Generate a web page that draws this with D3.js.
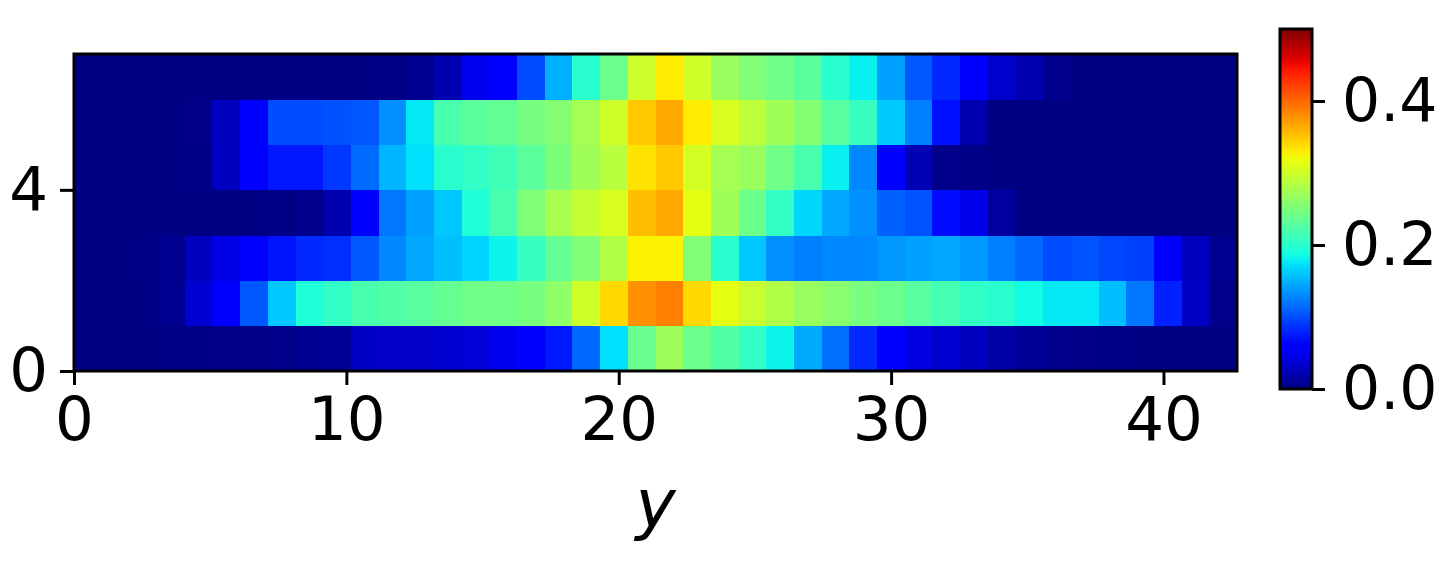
<!DOCTYPE html>
<html>
<head>
<meta charset="utf-8">
<script src="https://cdn.jsdelivr.net/npm/d3@7"></script>
<style>
    body { margin: 0; background: #ffffff; }
    svg { display: block; font-family: "DejaVu Sans", sans-serif; }
</style>
</head>
<body>
<svg id="chart" width="1442" height="580"></svg>
<script>
// heatmap rows, bottom (y = 0) to top (y = 6), one value per column
const row0 = [0.002, 0.002, 0.002, 0.003, 0.003, 0.004, 0.004, 0.005, 0.007, 0.011, 0.030, 0.032, 0.032, 0.035, 0.038, 0.048, 0.058, 0.074, 0.114, 0.172, 0.238, 0.270, 0.240, 0.224, 0.205, 0.182, 0.146, 0.117, 0.082, 0.058, 0.042, 0.035, 0.028, 0.017, 0.011, 0.006, 0.004, 0.003, 0.002, 0.002, 0.002, 0.002];
const row1 = [0.001, 0.001, 0.002, 0.007, 0.035, 0.058, 0.106, 0.160, 0.194, 0.205, 0.219, 0.224, 0.228, 0.236, 0.243, 0.243, 0.248, 0.262, 0.300, 0.340, 0.379, 0.387, 0.340, 0.314, 0.297, 0.282, 0.268, 0.258, 0.248, 0.240, 0.228, 0.217, 0.205, 0.200, 0.186, 0.176, 0.176, 0.156, 0.121, 0.078, 0.030, 0.005];
const row2 = [0.001, 0.001, 0.003, 0.007, 0.028, 0.045, 0.058, 0.072, 0.082, 0.085, 0.106, 0.129, 0.145, 0.156, 0.167, 0.182, 0.209, 0.235, 0.253, 0.282, 0.327, 0.327, 0.253, 0.200, 0.160, 0.133, 0.125, 0.129, 0.129, 0.137, 0.141, 0.145, 0.137, 0.125, 0.114, 0.100, 0.103, 0.097, 0.094, 0.058, 0.028, 0.007];
const row3 = [0.001, 0.001, 0.001, 0.002, 0.002, 0.002, 0.002, 0.003, 0.006, 0.020, 0.060, 0.121, 0.141, 0.160, 0.194, 0.219, 0.253, 0.277, 0.295, 0.306, 0.354, 0.366, 0.314, 0.272, 0.240, 0.205, 0.168, 0.145, 0.133, 0.110, 0.103, 0.068, 0.047, 0.014, 0.002, 0.001, 0.001, 0.001, 0.001, 0.001, 0.001, 0.001];
const row4 = [0.001, 0.001, 0.001, 0.002, 0.003, 0.028, 0.058, 0.074, 0.074, 0.090, 0.115, 0.151, 0.172, 0.200, 0.205, 0.214, 0.230, 0.250, 0.272, 0.287, 0.335, 0.349, 0.304, 0.275, 0.268, 0.243, 0.219, 0.180, 0.129, 0.058, 0.024, 0.005, 0.003, 0.001, 0.001, 0.001, 0.001, 0.001, 0.001, 0.001, 0.001, 0.001];
const row5 = [0.001, 0.001, 0.001, 0.002, 0.004, 0.028, 0.058, 0.100, 0.100, 0.102, 0.105, 0.133, 0.176, 0.219, 0.230, 0.235, 0.247, 0.255, 0.275, 0.300, 0.349, 0.366, 0.330, 0.306, 0.290, 0.272, 0.256, 0.228, 0.209, 0.162, 0.125, 0.070, 0.021, 0.001, 0.001, 0.001, 0.001, 0.001, 0.001, 0.001, 0.001, 0.001];
const row6 = [0.001, 0.001, 0.001, 0.001, 0.002, 0.002, 0.002, 0.002, 0.002, 0.002, 0.002, 0.003, 0.007, 0.021, 0.048, 0.060, 0.100, 0.149, 0.200, 0.240, 0.299, 0.330, 0.300, 0.268, 0.253, 0.243, 0.230, 0.200, 0.180, 0.141, 0.106, 0.082, 0.060, 0.033, 0.021, 0.005, 0.001, 0.001, 0.001, 0.001, 0.001, 0.001];

const rows = [row0, row1, row2, row3, row4, row5, row6];

// axis extents and tick labels
const xMax = 42.7;
const xTicks = [0, 10, 20, 30, 40];
const yTicks = [0, 4];
const cbTicks = [0.0, 0.2, 0.4];
const vMin = 0.0;
const vMax = 0.5;
const xLabel = "y";

// matplotlib jet segments: [position, value]
const jetR = [[0, 0], [0.35, 0], [0.66, 1], [0.89, 1], [1, 0.5]];
const jetG = [[0, 0], [0.125, 0], [0.375, 1], [0.64, 1], [0.91, 0], [1, 0]];
const jetB = [[0, 0.5], [0.11, 1], [0.34, 1], [0.65, 0], [1, 0]];

function segment(seg, t) {
    for (let i = 1; i < seg.length; i++) {
        if (t <= seg[i][0]) {
            const a = seg[i - 1], b = seg[i];
            return a[1] + (b[1] - a[1]) * (t - a[0]) / (b[0] - a[0]);
        }
    }
    return seg[seg.length - 1][1];
}

function jet(t) {
    t = Math.max(0, Math.min(1, t));
    return d3.rgb(255 * segment(jetR, t), 255 * segment(jetG, t), 255 * segment(jetB, t)).toString();
}

const norm = d3.scaleLinear().domain([vMin, vMax]).range([0, 1]).clamp(true);
const color = function(v) { return jet(norm(v)); };

const svg = d3.select("#chart");

// plot box
const plot = { left: 74, right: 1237, top: 54, bottom: 371 };
const nCols = row0.length;
const nRows = rows.length;

const x = d3.scaleLinear().domain([0, xMax]).range([plot.left, plot.right]);
const y = d3.scaleLinear().domain([0, nRows]).range([plot.bottom, plot.top]);
const colWidth = xMax / nCols;

// flatten to cells
const cells = [];
rows.forEach(function(r, j) {
    r.forEach(function(v, i) {
        cells.push({ i: i, j: j, v: v });
    });
});

svg.append("g")
    .selectAll("rect")
    .data(cells)
    .enter().append("rect")
        .attr("x", function(d) { return x(d.i * colWidth); })
        .attr("y", function(d) { return y(d.j + 1); })
        .attr("width", function(d) { return x((d.i + 1) * colWidth) - x(d.i * colWidth) + 0.5; })
        .attr("height", function(d) { return y(d.j) - y(d.j + 1) + 0.5; })
        .attr("fill", function(d) { return color(d.v); })
        .attr("shape-rendering", "crispEdges");

// frame
svg.append("rect")
    .attr("x", plot.left)
    .attr("y", plot.top)
    .attr("width", plot.right - plot.left)
    .attr("height", plot.bottom - plot.top)
    .attr("fill", "none")
    .attr("stroke", "black")
    .attr("stroke-width", 3);

// x axis
const xAxis = d3.axisBottom(x)
    .tickValues(xTicks)
    .tickFormat(d3.format("d"))
    .tickSize(14)
    .tickPadding(12);

const gx = svg.append("g")
    .attr("transform", "translate(0," + plot.bottom + ")")
    .call(xAxis);
gx.select(".domain").remove();
gx.selectAll("line").attr("stroke-width", 3);
gx.selectAll("text")
    .attr("font-size", 61)
    .attr("font-family", "DejaVu Sans")
    .attr("fill", "black");

// y axis
const yAxis = d3.axisLeft(y)
    .tickValues(yTicks)
    .tickFormat(d3.format("d"))
    .tickSize(14)
    .tickPadding(12);

const gy = svg.append("g")
    .attr("transform", "translate(" + plot.left + ",0)")
    .call(yAxis);
gy.select(".domain").remove();
gy.selectAll("line").attr("stroke-width", 3);
gy.selectAll("text")
    .attr("font-size", 61)
    .attr("font-family", "DejaVu Sans")
    .attr("fill", "black");

// x label
svg.append("text")
    .attr("x", (plot.left + plot.right) / 2)
    .attr("y", 527)
    .attr("text-anchor", "middle")
    .attr("font-size", 68)
    .attr("font-style", "italic")
    .attr("font-family", "DejaVu Sans")
    .text(xLabel);

// colorbar
const cbBox = { left: 1280, right: 1312, top: 29, bottom: 389 };
const cb = d3.scaleLinear().domain([vMin, vMax]).range([cbBox.bottom, cbBox.top]);

const defs = svg.append("defs");
const grad = defs.append("linearGradient")
    .attr("id", "jetgrad")
    .attr("x1", 0).attr("y1", 1)
    .attr("x2", 0).attr("y2", 0);
grad.selectAll("stop")
    .data(d3.range(0, 1.0001, 1 / 64))
    .enter().append("stop")
        .attr("offset", function(d) { return d; })
        .attr("stop-color", function(d) { return jet(d); });

svg.append("rect")
    .attr("x", cbBox.left)
    .attr("y", cbBox.top)
    .attr("width", cbBox.right - cbBox.left)
    .attr("height", cbBox.bottom - cbBox.top)
    .attr("fill", "url(#jetgrad)")
    .attr("stroke", "black")
    .attr("stroke-width", 3);

const cbAxis = d3.axisRight(cb)
    .tickValues(cbTicks)
    .tickFormat(d3.format(".1f"))
    .tickSize(13)
    .tickPadding(17);

const gc = svg.append("g")
    .attr("transform", "translate(" + cbBox.right + ",0)")
    .call(cbAxis);
gc.select(".domain").remove();
gc.selectAll("line").attr("stroke-width", 3);
gc.selectAll("text")
    .attr("font-size", 60)
    .attr("font-family", "DejaVu Sans")
    .attr("fill", "black");
</script>
</body>
</html>
